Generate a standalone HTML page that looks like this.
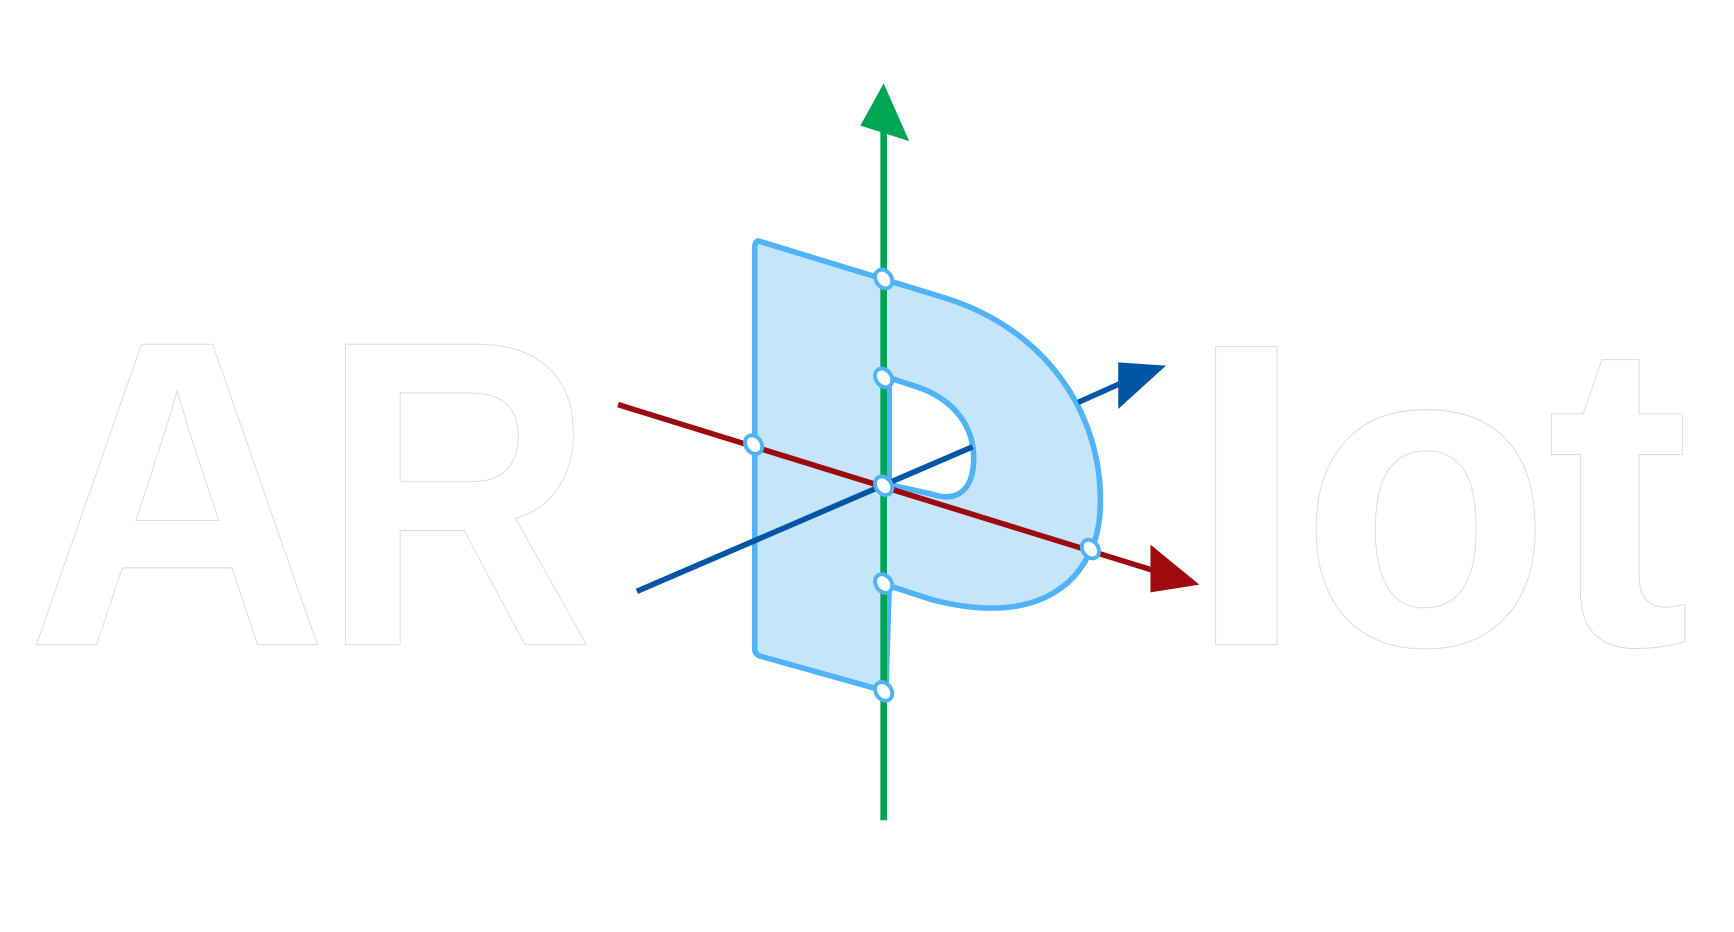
<!DOCTYPE html>
<html><head><meta charset="utf-8"><style>
html,body{margin:0;padding:0;background:#fff;width:1734px;height:932px;overflow:hidden}
svg{display:block}
</style></head><body>
<svg width="1734" height="932" viewBox="0 0 1560 838.5" preserveAspectRatio="none" xmlns="http://www.w3.org/2000/svg">
<g font-family="Liberation Sans, sans-serif" font-weight="bold" font-size="393" fill="#ffffff" stroke="#d8d8d8" stroke-width="0.8">
<text x="23.4" y="580" textLength="272" lengthAdjust="spacingAndGlyphs">A</text>
<text x="288" y="580" textLength="246.5" lengthAdjust="spacingAndGlyphs">R</text>
<text x="1065.5" y="580" font-size="370" textLength="112" lengthAdjust="spacingAndGlyphs">l</text>
<text x="1169.6" y="580" textLength="226" lengthAdjust="spacingAndGlyphs">o</text>
<text x="1391" y="580" textLength="129.6" lengthAdjust="spacingAndGlyphs">t</text>
</g>
<path d="M683,217 L850,268 C940,296 990,370 990,450 C990,470 987,485 980,498 C962,535 920,560 840,540 L800,527 L797,622 L683,590 Q679,588 679,584 L679,222 Q680,216 683,217 Z M800,340 L825,348 C860,360 876,385 876,412 C876,440 862,452 840,445 L800,436 Z" fill="#c5e5fb" fill-rule="evenodd" stroke="#4fb3f6" stroke-width="5" stroke-linejoin="round"/>
<line x1="573" y1="532" x2="875" y2="402" stroke="#0055a6" stroke-width="5"/>
<line x1="795" y1="738" x2="795" y2="110" stroke="#00a651" stroke-width="6"/>
<polygon points="795,75 774,113 818,127" fill="#00a651"/>
<line x1="556" y1="364" x2="1037" y2="513" stroke="#9e0b0f" stroke-width="5"/>
<polygon points="1035,490 1079,526 1035,533" fill="#9e0b0f"/>
<line x1="970" y1="362" x2="1008" y2="345" stroke="#0055a6" stroke-width="5"/>
<polygon points="1006,326 1049,329 1006,368" fill="#0055a6"/>
<g fill="#ffffff" stroke="#4fb3f6" stroke-width="3.5">
<ellipse cx="795" cy="251" rx="7" ry="9" transform="rotate(-35 795 251)"/>
<ellipse cx="795" cy="340" rx="7" ry="9" transform="rotate(-35 795 340)"/>
<ellipse cx="678" cy="400" rx="7" ry="9" transform="rotate(-35 678 400)"/>
<ellipse cx="795" cy="437" rx="7" ry="9" transform="rotate(-35 795 437)"/>
<ellipse cx="981" cy="494" rx="7" ry="9" transform="rotate(-35 981 494)"/>
<ellipse cx="795" cy="525" rx="7" ry="9" transform="rotate(-35 795 525)"/>
<ellipse cx="795" cy="622" rx="7" ry="9" transform="rotate(-35 795 622)"/>
</g>
</svg>
</body></html>
